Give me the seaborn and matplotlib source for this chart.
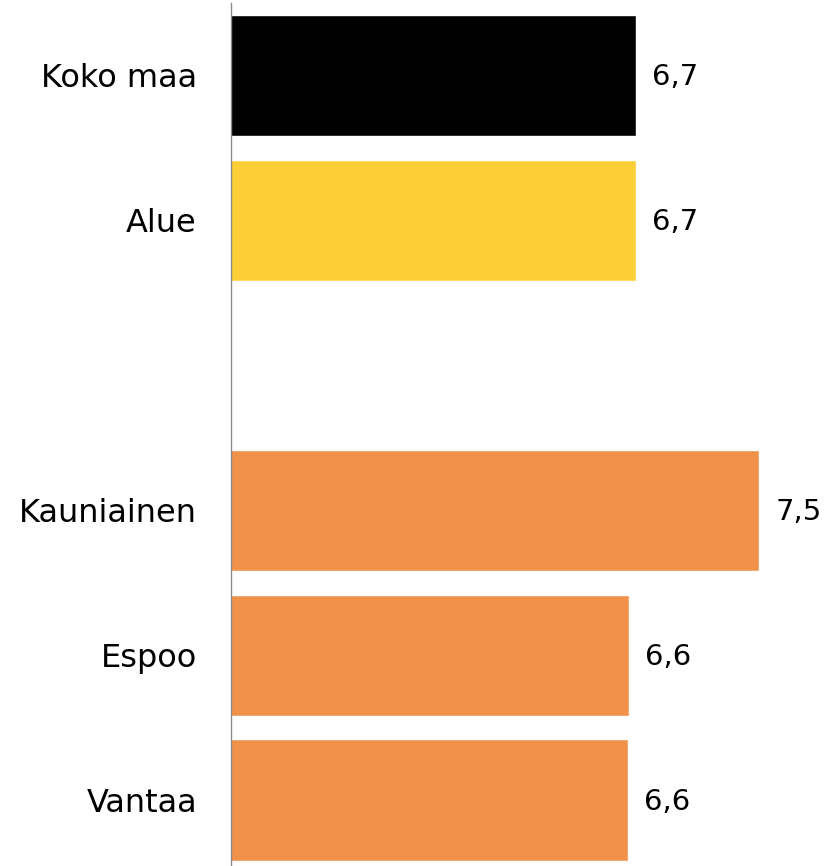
import pandas as pd
import numpy as np
import matplotlib.pyplot as plt
import seaborn as sns

# Data
categories = ["Koko maa", "Alue", "Kauniainen", "Espoo", "Vantaa"]
values = [6.69, 6.69, 7.51, 6.645, 6.64]
shown = ["6,7", "6,7", "7,5", "6,6", "6,6"]
groups = ["maa", "alue", "kunta", "kunta", "kunta"]
order = ["Koko maa", "Alue", " ", "Kauniainen", "Espoo", "Vantaa"]

df = pd.DataFrame({"name": categories, "value": values, "group": groups})
palette = {"maa": "#000000", "alue": "#FDCF37", "kunta": "#F0924A"}

sns.set_style("white")
plt.rcParams['font.family'] = ['DejaVu Sans']
plt.rcParams['text.color'] = 'black'
plt.rcParams['ytick.color'] = 'black'

fig = plt.figure(figsize=(8.29, 8.66), dpi=100)
ax = fig.add_axes([231 / 829, 0, 1 - 231 / 829, 1 - 3 / 866])

sns.barplot(data=df, x="value", y="name", hue="group", order=order,
            palette=palette, width=0.835, legend=False, ax=ax, saturation=1)

ax.set_xlim(4, 4 + (829 - 231) / 150.5)
ax.set_ylim(5.455, -0.497)

# value labels next to bar ends
for name, v, s in zip(categories, values, shown):
    ax.annotate(s, xy=(v, order.index(name)), xytext=(16, -2),
                textcoords="offset pixels", color="black",
                va="center", ha="left", fontsize=21)

ax.set_xlabel("")
ax.set_ylabel("")
ax.set_xticks([])
ax.tick_params(axis="y", length=0, pad=24.5, labelsize=23, labelcolor="black")
for side in ["top", "right", "bottom"]:
    ax.spines[side].set_visible(False)
ax.spines["left"].set_color("#8c8c8c")
ax.spines["left"].set_linewidth(1)

fig.savefig("out.png", dpi=100)
